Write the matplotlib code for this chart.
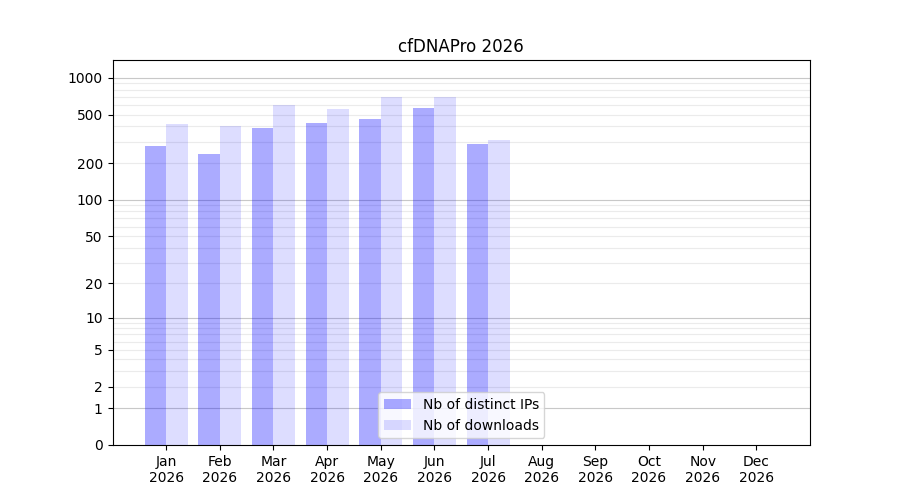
import numpy as np
import matplotlib
matplotlib.use("Agg")
import matplotlib.pyplot as plt

months = ["Jan", "Feb", "Mar", "Apr", "May", "Jun", "Jul", "Aug", "Sep", "Oct", "Nov", "Dec"]
year = "2026"
ips = [278, 239, 390, 429, 463, 570, 289]
downloads = [421, 405, 602, 559, 691, 691, 311]
yticks = [0, 1, 2, 5, 10, 20, 50, 100, 200, 500, 1000]
major_grid = [1, 10, 100, 1000]
minor_grid = [2, 3, 4, 5, 6, 7, 8, 9, 20, 30, 40, 50, 60, 70, 80, 90,
              200, 300, 400, 500, 600, 700, 800, 900]

fig, ax = plt.subplots(figsize=(9, 5), dpi=100)

def fwd(x):
    return np.log10(1 + np.maximum(x, 0))

def inv(y):
    return 10 ** y - 1

ax.set_yscale('function', functions=(fwd, inv))

x_ip = np.arange(len(ips))
x_dl = np.arange(len(downloads))
ax.bar(x_ip - 0.2, ips, width=0.4, color='blue', alpha=0.33, label='Nb of distinct IPs')
ax.bar(x_dl + 0.2, downloads, width=0.4, color='blue', alpha=0.135, label='Nb of downloads')

for v in minor_grid:
    ax.axhline(v, color='#ebebeb', linewidth=0.8, zorder=0)
for v in major_grid:
    ax.axhline(v, color='#c8c8c8', linewidth=0.8, zorder=0)

ax.set_ylim(0, 1400)
ax.set_yticks(yticks)
ax.set_yticklabels([str(t) for t in yticks])
ax.minorticks_off()
ax.set_xlim(-1, 12)
ax.set_xticks(np.arange(len(months)))
ax.set_xticklabels([f"{m}\n{year}" for m in months])
ax.set_title("cfDNAPro 2026")
ax.legend(loc='lower center')

fig.savefig("out.png", dpi=100)
